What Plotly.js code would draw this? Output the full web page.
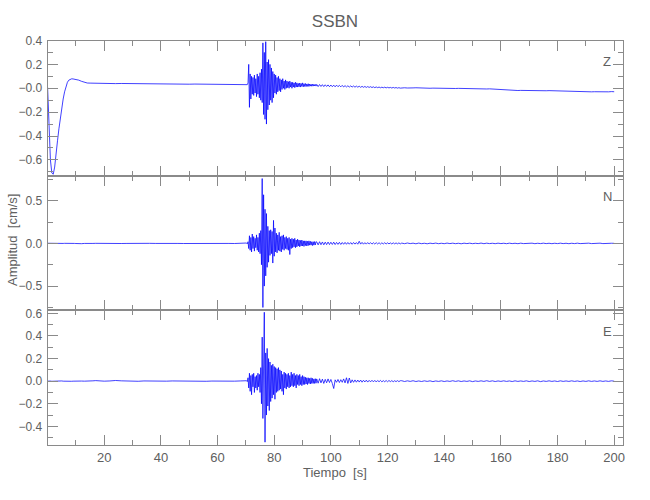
<!DOCTYPE html>
<html>
<head>
<meta charset="utf-8">
<script src="https://cdn.plot.ly/plotly-3.0.1.min.js"></script>
<style>html,body{margin:0;padding:0;background:#fff;}#chart{width:650px;height:500px;}</style>
</head>
<body>
<div id="chart"></div>
<script>
// Time samples [s]
const time = [
0,0.5,1,1.5,2,2.5,3,3.5,4,4.5,5,5.5,6,6.5,7,7.5,8,8.5,9,9.5,10,11,12,13,14,15,16,17,18,19,20,
22,24,26,28,30,32,34,36,38,40,42,44,46,48,50,52,54,56,58,60,62,64,66,68,
70,70.25,70.5,70.75,71,71.25,71.5,71.75,72,72.25,72.5,72.75,73,73.25,73.5,73.75,74,74.25,74.5,74.75,
75,75.25,75.5,75.75,76,76.25,76.5,76.75,77,77.25,77.5,77.75,78,78.25,78.5,78.75,79,79.25,79.5,79.75,
80,80.25,80.5,80.75,81,81.25,81.5,81.75,82,82.25,82.5,82.75,83,83.25,83.5,83.75,84,84.25,84.5,84.75,
85,85.25,85.5,85.75,86,86.25,86.5,86.75,87,87.25,87.5,87.75,88,88.25,88.5,88.75,89,89.25,89.5,89.75,
90,90.25,90.5,90.75,91,91.25,91.5,91.75,92,92.25,92.5,92.75,93,93.25,93.5,93.75,94,94.25,94.5,94.75,
95,95.5,96,96.5,97,97.5,98,98.5,99,99.5,100,100.5,101,101.5,102,102.5,103,103.5,104,104.5,
105,105.5,106,106.5,107,107.5,108,108.5,109,109.5,110,110.5,111,111.5,112,112.5,113,113.5,114,114.5,
115,115.5,116,116.5,117,117.5,118,118.5,119,119.5,120,120.5,121,121.5,122,122.5,123,123.5,124,124.5,
125,126,127,128,129,130,131,132,133,134,135,136,137,138,139,140,141,142,143,144,145,146,147,148,149,150,
151,152,153,154,155,156,157,158,159,160,161,162,163,164,165,166,167,168,169,170,171,172,173,174,175,
176,177,178,179,180,181,182,183,184,185,186,187,188,189,190,191,192,193,194,195,196,197,198,199,200
];

// Vertical component Z [cm/s]
const ampZ = [
0.01,-0.30,-0.60,-0.71,-0.72,-0.66,-0.57,-0.44,-0.34,-0.24,-0.16,-0.09,-0.03,0.01,0.05,0.068,0.077,0.079,0.078,0.076,0.074,0.068,0.058,0.05,0.044,0.043,0.042,0.042,0.041,0.041,0.040,
0.040,0.039,0.040,0.039,0.038,0.039,0.038,0.037,0.038,0.037,0.036,0.035,0.036,0.035,0.034,0.035,0.034,0.033,0.032,0.033,0.032,0.031,0.030,0.029,
0.028,0.027,0.030,0.045,0.20,-0.16,0.12,-0.09,0.10,-0.05,0.09,-0.06,0.11,-0.04,0.08,-0.07,0.12,-0.05,0.10,-0.08,
0.13,-0.10,0.16,-0.12,0.38,-0.22,0.30,-0.26,0.39,-0.30,0.22,-0.18,0.24,-0.14,0.20,-0.10,0.17,-0.12,0.14,-0.08,
0.12,-0.04,0.11,-0.05,0.09,-0.03,0.10,-0.02,0.08,-0.03,0.07,-0.01,0.08,0.00,0.06,-0.01,0.07,0.00,0.06,0.005,
0.055,0.00,0.06,0.01,0.05,0.00,0.05,0.01,0.045,0.005,0.05,0.01,0.045,0.01,0.04,0.012,0.044,0.01,0.04,0.015,
0.045,0.012,0.038,0.015,0.04,0.014,0.036,0.016,0.038,0.015,0.035,0.018,0.034,0.017,0.034,0.018,0.033,0.019,0.032,0.018,
0.032,0.014,0.031,0.015,0.030,0.014,0.029,0.015,0.028,0.013,0.027,0.013,0.026,0.012,0.026,0.013,0.024,0.012,0.024,0.011,
0.022,0.011,0.021,0.010,0.020,0.010,0.019,0.009,0.018,0.009,0.017,0.008,0.016,0.008,0.015,0.007,0.014,0.007,0.013,0.006,
0.012,0.005,0.011,0.005,0.010,0.004,0.009,0.004,0.009,0.003,0.008,0.003,0.007,0.002,0.007,0.002,0.006,0.001,0.005,0.001,
0.003,0.004,0.002,0.005,0.003,0.004,0.002,0.003,0.001,0.002,0.000,0.001,0.000,-0.001,-0.002,-0.002,-0.003,-0.002,-0.003,-0.002,-0.001,-0.002,-0.003,-0.002,-0.004,-0.003,
-0.004,-0.005,-0.004,-0.005,-0.006,-0.005,-0.007,-0.008,-0.009,-0.011,-0.012,-0.014,-0.015,-0.017,-0.018,-0.019,-0.018,-0.019,-0.017,-0.018,-0.019,-0.018,-0.020,-0.019,-0.020,
-0.021,-0.020,-0.021,-0.022,-0.021,-0.022,-0.023,-0.022,-0.024,-0.025,-0.026,-0.027,-0.028,-0.029,-0.030,-0.029,-0.030,-0.029,-0.030,-0.029,-0.030,-0.029,-0.030,-0.028,-0.029
];

// North component N [cm/s]
const ampN = [
0.002,0.001,0.002,0.0,0.001,0.002,0.001,0.0,-0.001,0.0,0.001,0.0,0.001,0.002,0.001,0.0,-0.001,0.0,0.001,0.0,-0.001,-0.004,-0.003,0.0,-0.002,-0.001,0.0,0.001,0.0,-0.001,0.0,
0.0,0.001,-0.001,0.0,0.002,0.0,-0.001,0.001,0.0,-0.002,0.0,0.001,0.0,-0.001,0.0,0.002,0.001,0.0,-0.001,0.0,0.001,0.0,-0.001,0.0,
0.0,0.005,-0.005,0.02,-0.06,0.09,-0.08,0.07,-0.10,0.11,-0.06,0.08,-0.09,0.06,-0.05,0.10,-0.08,0.07,-0.10,0.12,
-0.12,0.15,-0.25,0.76,-0.75,0.57,-0.50,0.40,-0.38,0.35,-0.28,0.20,-0.22,0.15,-0.14,0.16,-0.12,0.14,-0.23,0.27,
-0.15,0.18,-0.10,0.12,-0.11,0.10,-0.08,0.13,-0.09,0.08,-0.10,0.09,-0.07,0.10,-0.08,0.07,-0.06,0.08,-0.07,0.06,
-0.08,0.07,-0.13,0.05,-0.06,0.06,-0.05,0.05,-0.04,0.06,-0.05,0.04,-0.04,0.05,-0.03,0.04,-0.04,0.035,-0.03,0.04,
-0.03,0.03,-0.035,0.03,-0.025,0.03,-0.03,0.025,-0.025,0.03,-0.02,0.025,-0.02,0.02,-0.025,0.02,-0.02,0.022,-0.018,0.02,
0.018,-0.017,0.02,-0.015,0.017,-0.016,0.015,-0.014,0.016,-0.013,0.014,-0.012,0.015,-0.013,0.012,-0.011,0.013,-0.012,0.011,-0.01,
0.012,-0.01,0.011,-0.009,0.01,-0.01,0.011,-0.008,0.01,-0.009,0.025,-0.008,0.012,-0.009,0.009,-0.008,0.01,-0.007,0.009,-0.008,
0.008,-0.007,0.009,-0.006,0.008,-0.007,0.007,-0.006,0.008,-0.006,0.007,-0.005,0.006,-0.006,0.007,-0.005,0.006,-0.005,0.006,-0.005,
0.004,-0.003,0.005,-0.002,0.003,-0.004,0.004,-0.003,0.002,-0.004,0.003,-0.002,0.004,-0.003,0.002,-0.003,0.004,-0.002,0.003,-0.003,
0.002,-0.004,0.003,-0.002,0.003,-0.003,0.002,-0.002,0.004,-0.003,0.003,-0.002,0.002,-0.003,0.003,-0.002,0.002,-0.003,0.003,-0.002,
0.002,-0.003,0.003,-0.002,0.002,-0.002,0.003,-0.003,0.002,-0.002,0.003,-0.002,0.002,-0.003,0.002,-0.002,0.003,-0.002,0.002,-0.003,
0.002,-0.002,0.003,-0.002,0.002,-0.002,0.003,-0.002,0.002,-0.002,0.003,-0.002,0.002,-0.002,0.002,0.001
];

// East component E [cm/s]
const ampE = [
0.0,0.002,0.001,-0.001,0.0,0.002,0.001,0.0,-0.001,0.001,0.002,0.0,-0.001,0.001,0.0,0.002,0.001,-0.001,0.0,0.001,0.0,0.002,0.001,0.0,-0.001,0.001,0.003,0.005,0.002,0.001,0.0,
0.002,0.006,0.003,0.0,0.001,-0.001,0.002,0.0,0.001,-0.002,0.0,0.002,0.001,-0.001,0.0,0.002,0.0,-0.001,0.001,0.0,-0.002,0.001,0.0,0.002,
0.0,0.004,-0.004,0.03,-0.06,0.07,-0.09,0.05,-0.12,0.06,-0.05,0.07,-0.10,0.04,-0.06,0.05,-0.08,0.07,-0.05,0.06,
-0.10,0.12,-0.20,0.39,-0.33,0.30,0.61,-0.54,0.25,-0.30,0.29,-0.22,0.20,-0.26,0.17,-0.18,0.14,-0.15,0.15,-0.12,
0.13,-0.16,0.12,-0.10,0.11,-0.09,0.12,-0.08,0.10,-0.07,0.09,-0.09,0.06,-0.12,0.08,-0.06,0.07,-0.07,0.06,-0.05,
0.07,-0.06,0.05,-0.05,0.08,-0.04,0.06,-0.05,0.07,-0.04,0.05,-0.06,0.06,-0.03,0.05,-0.04,0.06,-0.03,0.04,-0.04,
0.05,-0.03,0.04,-0.03,0.035,-0.025,0.03,-0.03,0.03,-0.02,0.025,-0.025,0.03,-0.02,0.025,-0.02,0.02,-0.02,0.022,-0.018,
0.02,-0.018,0.022,-0.015,0.018,-0.02,0.016,-0.014,0.02,-0.012,0.015,-0.02,-0.065,0.012,-0.01,0.015,-0.012,0.013,-0.01,0.02,
-0.015,0.03,-0.02,0.028,-0.015,0.012,-0.01,0.011,-0.009,0.01,-0.008,0.01,-0.009,0.008,-0.007,0.009,-0.008,0.007,-0.006,0.008,
-0.006,0.007,-0.007,0.006,-0.005,0.007,-0.006,0.005,-0.005,0.006,-0.005,0.006,-0.004,0.005,-0.005,0.004,-0.004,0.005,-0.004,0.004,
0.004,-0.003,0.003,-0.002,0.004,-0.003,0.002,-0.003,0.003,-0.002,0.003,-0.004,0.002,-0.002,0.003,-0.003,0.002,-0.002,0.004,-0.002,
0.003,-0.003,0.002,-0.002,0.003,-0.004,0.002,-0.002,0.003,-0.002,0.004,-0.002,0.003,-0.003,0.002,-0.002,0.003,-0.002,0.002,-0.003,
0.003,-0.002,0.002,-0.002,0.003,-0.003,0.002,-0.002,0.003,-0.004,0.002,-0.002,0.003,-0.002,0.002,-0.003,0.003,-0.002,0.002,-0.002,
0.003,-0.002,0.002,-0.003,0.002,-0.002,0.003,-0.002,0.002,-0.002,0.003,-0.002,0.002,-0.002,0.003,0.0
];

const componentLabels = ["Z", "N", "E"];
const xTickVals = [20, 40, 60, 80, 100, 120, 140, 160, 180, 200];
const xTickText = ["20", "40", "60", "80", "100", "120", "140", "160", "180", "200"];
const zTickVals = [-0.6, -0.4, -0.2, 0, 0.2, 0.4];
const zTickText = ["\u22120.6", "\u22120.4", "\u22120.2", "\u22120.0", "0.2", "0.4"];
const nTickVals = [-0.5, 0, 0.5];
const nTickText = ["\u22120.5", "0.0", "0.5"];
const eTickVals = [-0.4, -0.2, 0, 0.2, 0.4, 0.6];
const eTickText = ["\u22120.4", "\u22120.2", "0.0", "0.2", "0.4", "0.6"];

if (ampZ.length !== time.length || ampN.length !== time.length || ampE.length !== time.length) {
  throw new Error("length mismatch " + time.length + " " + ampZ.length + " " + ampN.length + " " + ampE.length);
}

const FONT = "Liberation Sans, Arial, sans-serif";
const GRAY = "#8a8a8a";
const TXT = "#606060";
const LINE = {color: "#0000ff", width: 0.75};

const traces = [
  {x: time, y: ampZ, xaxis: "x", yaxis: "y", type: "scatter", mode: "lines", line: LINE, hoverinfo: "skip"},
  {x: time, y: ampN, xaxis: "x2", yaxis: "y2", type: "scatter", mode: "lines", line: LINE, hoverinfo: "skip"},
  {x: time, y: ampE, xaxis: "x3", yaxis: "y3", type: "scatter", mode: "lines", line: LINE, hoverinfo: "skip"}
];

const xDomain = [0.0732, 0.958];
function xAxis(anchor, labels) {
  return {
    domain: xDomain, anchor: anchor, range: [0, 203],
    showline: true, linecolor: GRAY, linewidth: 1, mirror: "allticks",
    ticks: "inside", ticklen: 10, tickcolor: GRAY, tickwidth: 1,
    tickmode: "array", tickvals: xTickVals, ticktext: xTickText,
    showticklabels: labels, showgrid: false, zeroline: false, ticklabelstandoff: 0,
    tickfont: {family: FONT, size: 13, color: TXT},
    minor: {tickmode: "linear", tick0: 0, dtick: 10, ticks: "inside", ticklen: 5, tickcolor: GRAY, showgrid: false}
  };
}
function yAxis(anchor, domain, range, vals, text, minorStep) {
  return {
    domain: domain, anchor: anchor, range: range,
    showline: true, linecolor: GRAY, linewidth: 1, mirror: "allticks",
    ticks: "inside", ticklen: 10, tickcolor: GRAY, tickwidth: 1,
    tickmode: "array", tickvals: vals, ticktext: text,
    showgrid: false, zeroline: false, ticklabelstandoff: 2,
    tickfont: {family: FONT, size: 12, color: TXT},
    minor: {tickmode: "linear", tick0: 0, dtick: minorStep, ticks: "inside", ticklen: 5, tickcolor: GRAY, showgrid: false}
  };
}

const labelY = [1 - 61/500, 1 - 196/500, 1 - 331/500];
const annotations = componentLabels.map((c, i) => ({
  text: c, xref: "paper", yref: "paper", x: 607/650, y: labelY[i],
  xanchor: "center", yanchor: "middle", showarrow: false,
  font: {family: FONT, size: 13, color: TXT}
}));
annotations.push({
  text: "Amplitud  [cm/s]", xref: "paper", yref: "paper", x: 12/650, y: 1 - 240/500,
  xanchor: "center", yanchor: "middle", textangle: -90, showarrow: false,
  font: {family: FONT, size: 13, color: TXT}
});
annotations.push({
  text: "Tiempo  [s]", xref: "paper", yref: "paper", x: 335/650, y: 1 - 472/500,
  xanchor: "center", yanchor: "middle", showarrow: false,
  font: {family: FONT, size: 13, color: TXT}
});

const layout = {
  width: 650, height: 500,
  margin: {l: 0, r: 0, t: 0, b: 0},
  paper_bgcolor: "#ffffff", plot_bgcolor: "#ffffff",
  showlegend: false,
  title: {text: "SSBN", x: 335/650, xanchor: "center", xref: "paper", y: 1 - 21/500, yanchor: "middle", yref: "paper",
          font: {family: FONT, size: 17, color: TXT}},
  xaxis: xAxis("y", false),
  xaxis2: xAxis("y2", false),
  xaxis3: xAxis("y3", true),
  yaxis: yAxis("x", [0.648, 0.919], [-0.735, 0.40], zTickVals, zTickText, 0.1),
  yaxis2: yAxis("x2", [0.38, 0.648], [-0.78, 0.79], nTickVals, nTickText, 0.25),
  yaxis3: yAxis("x3", [0.11, 0.38], [-0.565, 0.63], eTickVals, eTickText, 0.1),
  annotations: annotations
};

Plotly.newPlot("chart", traces, layout, {staticPlot: true, displayModeBar: false});
</script>
</body>
</html>
